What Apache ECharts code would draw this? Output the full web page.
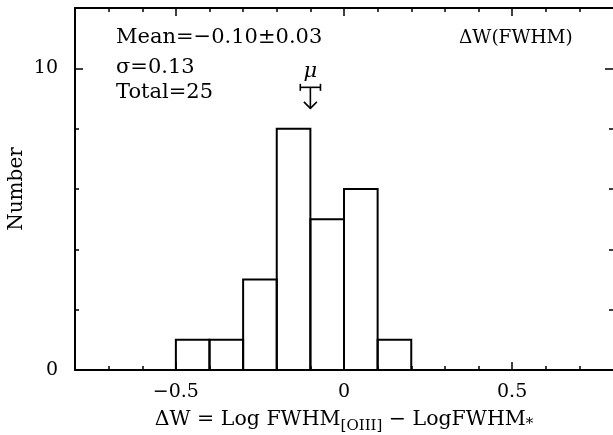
<!DOCTYPE html>
<html>
<head>
<meta charset="utf-8">
<script src="https://cdn.jsdelivr.net/npm/echarts@6/dist/echarts.min.js"></script>
<style>
  html, body { margin: 0; padding: 0; background: #fff; }
  #chart { width: 613px; height: 435px; }
</style>
</head>
<body>
<div id="chart"></div>
<script>
// Histogram of ΔW = log FWHM[OIII] − log FWHM*
const binStarts = [-0.5, -0.4, -0.3, -0.2, -0.1, 0.0, 0.1];
const binWidth = 0.1;
const counts = [1, 1, 3, 8, 5, 6, 1];

// summary statistics
const meanValue = -0.10;
const meanError = 0.03;
const sigmaValue = 0.13;
const totalCount = counts.reduce((a, b) => a + b, 0);

// axis ticks
const xMajorTicks = [-0.5, 0, 0.5];
const xMinorTicks = [-0.7, -0.6, -0.4, -0.3, -0.2, -0.1, 0.1, 0.2, 0.3, 0.4, 0.6, 0.7];
const yMajorTicks = [0, 10];
const yMinorTicks = [2, 4, 6, 8];

const FONT = 'DejaVu Serif';
const INK = '#000';

function fmtX(v) {
  if (Math.abs(v) < 1e-9) return '0';
  return (v < 0 ? '\u2212' : '') + Math.abs(v).toFixed(1);
}

const histData = binStarts.map((s, i) => [s, s + binWidth, counts[i]]);

function baseX(position, ticks, len, showLine, labels) {
  return {
    type: 'value', gridIndex: 0, position: position,
    min: -0.8, max: 0.8,
    axisLine: { show: showLine, onZero: false, lineStyle: { color: INK, width: 2 } },
    axisTick: { show: true, inside: true, length: len, customValues: ticks, lineStyle: { color: INK, width: 1.5 } },
    axisLabel: labels ? {
      show: true, customValues: xMajorTicks, formatter: fmtX,
      fontFamily: FONT, fontSize: 19, color: INK, margin: 13
    } : { show: false },
    splitLine: { show: false }
  };
}
function baseY(position, ticks, len, showLine, labels) {
  return {
    type: 'value', gridIndex: 0, position: position,
    min: 0, max: 12,
    axisLine: { show: showLine, onZero: false, lineStyle: { color: INK, width: 2 } },
    axisTick: { show: true, inside: true, length: len, customValues: ticks, lineStyle: { color: INK, width: 1.5 } },
    axisLabel: labels ? {
      show: true, customValues: yMajorTicks,
      fontFamily: FONT, fontSize: 19, color: INK, margin: 17
    } : { show: false },
    splitLine: { show: false }
  };
}

const xMain = baseX('bottom', xMinorTicks, 4, true, true);
xMain.name = '{t|ΔW = Log FWHM}{s|[OIII]}{t| − LogFWHM}{a|*}';
xMain.nameLocation = 'middle';
xMain.nameGap = 35;
xMain.nameTextStyle = {
  fontFamily: FONT, color: INK,
  rich: {
    t: { fontFamily: FONT, fontSize: 20.5, color: INK, padding: [0, 0, 0, 0] },
    s: { fontFamily: FONT, fontSize: 15, color: INK, padding: [14, 0, 0, 0] },
    a: { fontFamily: FONT, fontSize: 15, color: INK, padding: [10, 0, 0, 0] }
  }
};

const yMain = baseY('left', yMinorTicks, 4, true, true);
yMain.name = 'Number';
yMain.nameLocation = 'middle';
yMain.nameGap = 48;
yMain.nameMoveOverlap = false;
yMain.nameTextStyle = { fontFamily: FONT, fontSize: 20, color: INK };

const option = {
  backgroundColor: '#fff',
  animation: false,
  grid: { left: 75, right: 0, top: 8, bottom: 65, containLabel: false, outerBoundsMode: 'none' },
  xAxis: [
    xMain,
    baseX('bottom', xMajorTicks, 8, false, false),
    baseX('top', xMinorTicks, 4, true, false),
    baseX('top', xMajorTicks, 8, false, false)
  ],
  yAxis: [
    yMain,
    baseY('left', yMajorTicks, 8, false, false),
    baseY('right', yMinorTicks, 4, false, false),
    baseY('right', yMajorTicks, 8, false, false)
  ],
  series: [
    {
      type: 'custom',
      xAxisIndex: 0, yAxisIndex: 0,
      data: histData,
      renderItem: function (params, api) {
        const p0 = api.coord([api.value(0), 0]);
        const p1 = api.coord([api.value(1), api.value(2)]);
        return {
          type: 'rect',
          shape: { x: p0[0], y: p1[1], width: p1[0] - p0[0], height: p0[1] - p1[1] },
          style: { fill: 'none', stroke: INK, lineWidth: 2 }
        };
      },
      z: 3
    },
    {
      // mean marker: μ with its error bar and a downward arrow
      type: 'custom',
      xAxisIndex: 0, yAxisIndex: 0,
      data: [[meanValue, meanError, 9.37]],
      renderItem: function (params, api) {
        const m = api.value(0), e = api.value(1), lvl = api.value(2);
        const c = api.coord([m, lvl]);
        const l = api.coord([m - e, lvl]);
        const r = api.coord([m + e, lvl]);
        const cap = 3.5, shaft = 21, head = 6.5;
        const ls = { stroke: INK, lineWidth: 1.6, fill: 'none' };
        return {
          type: 'group',
          children: [
            { type: 'line', shape: { x1: l[0], y1: c[1], x2: r[0], y2: c[1] }, style: ls },
            { type: 'line', shape: { x1: l[0], y1: c[1] - cap, x2: l[0], y2: c[1] + cap }, style: ls },
            { type: 'line', shape: { x1: r[0], y1: c[1] - cap, x2: r[0], y2: c[1] + cap }, style: ls },
            { type: 'line', shape: { x1: c[0], y1: c[1], x2: c[0], y2: c[1] + shaft }, style: ls },
            { type: 'polyline', shape: { points: [[c[0] - head, c[1] + shaft - head], [c[0], c[1] + shaft], [c[0] + head, c[1] + shaft - head]] }, style: ls },
            { type: 'text', x: c[0], y: c[1] - 16,
              style: { text: 'μ', fontFamily: FONT, fontStyle: 'italic', fontSize: 21, fill: INK, align: 'center', verticalAlign: 'middle' } }
          ]
        };
      },
      z: 4
    }
  ],
  graphic: [
    { type: 'text', left: 116, top: 27,
      style: { text: 'Mean=\u2212' + Math.abs(meanValue).toFixed(2) + '±' + meanError.toFixed(2), fontFamily: FONT, fontSize: 21, fill: INK } },
    { type: 'text', left: 116, top: 57,
      style: { text: 'σ=' + sigmaValue.toFixed(2), fontFamily: FONT, fontSize: 21, fill: INK } },
    { type: 'text', left: 116, top: 82,
      style: { text: 'Total=' + totalCount, fontFamily: FONT, fontSize: 21, fill: INK } },
    { type: 'text', left: 459, top: 29,
      style: { text: 'ΔW(FWHM)', fontFamily: FONT, fontSize: 18.5, fill: INK } }
  ]
};

const chart = echarts.init(document.getElementById('chart'), null, { renderer: 'canvas' });
chart.setOption(option);
</script>
</body>
</html>
